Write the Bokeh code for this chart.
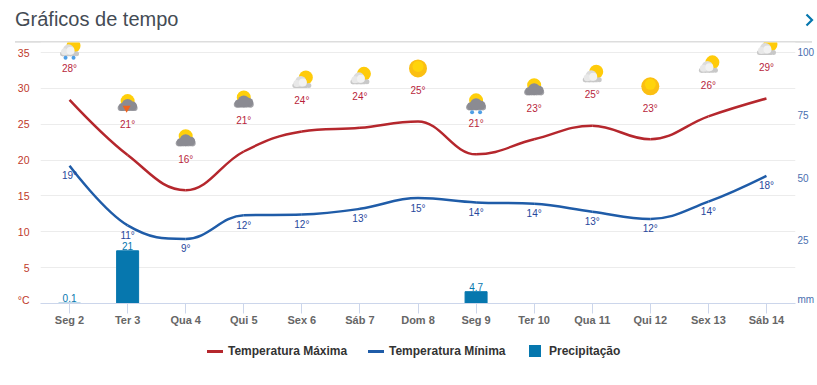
from bokeh.embed import file_html
from bokeh.resources import INLINE
from bokeh.plotting import figure
from bokeh.layouts import column
from bokeh.models import (ColumnDataSource, Range1d, LinearAxis, FixedTicker, Div)
from bokeh.core.properties import value

days = ["Seg 2", "Ter 3", "Qua 4", "Qui 5", "Sex 6", "Sáb 7", "Dom 8", "Seg 9", "Ter 10", "Qua 11", "Qui 12", "Sex 13", "Sáb 14"]
temp_max = [28.4, 20.7, 15.8, 21.2, 24.0, 24.5, 25.4, 20.8, 22.9, 24.8, 22.9, 26.1, 28.6]
temp_min = [19.2, 10.9, 9.0, 12.3, 12.4, 13.2, 14.7, 14.1, 13.9, 12.8, 11.8, 14.2, 17.8]
label_max = ["28°", "21°", "16°", "21°", "24°", "24°", "25°", "21°", "23°", "25°", "23°", "26°", "29°"]
label_min = ["19°", "11°", "9°", "12°", "12°", "13°", "15°", "14°", "14°", "13°", "12°", "14°", "18°"]
precip_days = [0, 1, 7]
precip = [0.1, 21, 4.7]
precip_labels = ["0.1", "21", "4.7"]
icons = ["rain", "storm", "dark", "dark", "light", "light", "sun", "rain_dark", "dark", "light", "sun", "light", "light"]
temp_ticks = [5, 10, 15, 20, 25, 30, 35]
mm_ticks = [25, 50, 75, 100]
legend_names = ["Temperatura Máxima", "Temperatura Mínima", "Precipitação"]

RED = "#b5272d"; BLUE = "#1f5ca8"; BAR = "#0677ae"
FONT = "Liberation Sans"
W, H = 817, 300
L, R, T, B = 40, W - 795, 0, H - 261
xr = Range1d(-0.5, 12.5)
yr = Range1d(0, (303 - 42) / 7.17)
ppx = (W - L - R) / 13
ppy = 7.17

header = Div(width=W, height=42, margin=0, text=(
    '<div style="position:relative;width:816px;height:42px;">'
    '<div style="position:absolute;left:15px;top:8px;font:20px \'Liberation Sans\';color:#444b54;white-space:nowrap;">Gráficos de tempo</div>'
    '<div style="position:absolute;left:15px;top:41px;width:797px;height:2px;background:#dddddd;"></div>'
    '<svg style="position:absolute;left:804px;top:12px;" width="11" height="16">'
    '<polyline points="2.5,2.5 8,8 2.5,13.5" fill="none" stroke="#0677ae" stroke-width="2.2"/></svg>'
    '</div>'))

label_css = "position:absolute;top:0;line-height:18px;font:bold 12px/18px 'Liberation Sans';color:#333333;white-space:nowrap;"
legend = Div(width=W, height=30, margin=0, text=(
    '<div style="position:relative;width:816px;height:30px;">'
    f'<div style="position:absolute;left:207px;top:8px;width:16px;height:2.5px;background:{RED};"></div>'
    f'<div style="{label_css}left:228px;">{legend_names[0]}</div>'
    f'<div style="position:absolute;left:368px;top:8px;width:16px;height:2.5px;background:{BLUE};"></div>'
    f'<div style="{label_css}left:389px;">{legend_names[1]}</div>'
    f'<div style="position:absolute;left:529px;top:3px;width:12px;height:12px;background:{BAR};"></div>'
    f'<div style="{label_css}left:549px;">{legend_names[2]}</div>'
    '</div>'))

p = figure(width=W, height=H, output_backend="svg", toolbar_location=None,
           x_range=xr, y_range=yr, margin=0,
           min_border_left=L, min_border_right=R, min_border_top=T, min_border_bottom=B,
           outline_line_color=None, background_fill_color="white", border_fill_color="white")
p.extra_y_ranges = {"mm": Range1d(0, (303 - 42) / 2.51)}

# axes
p.xaxis.ticker = FixedTicker(ticks=list(range(13)))
p.xaxis.major_label_overrides = {i: d for i, d in enumerate(days)}
p.xaxis.axis_line_color = "#ccd6eb"
p.xaxis.major_tick_line_color = "#ccd6eb"
p.xaxis.major_tick_in = 0
p.xaxis.major_tick_out = 10
p.xaxis.minor_tick_line_color = None
p.xaxis.major_label_text_font = FONT
p.xaxis.major_label_text_font_size = "11px"
p.xaxis.major_label_text_font_style = "bold"
p.xaxis.major_label_text_color = "#666666"
p.xaxis.major_label_standoff = 0
p.xgrid.visible = False
p.ygrid.ticker = FixedTicker(ticks=temp_ticks)
p.ygrid.grid_line_color = "#ececec"

UNIT_C = 4 / ppy        # the unit labels sit slightly above the baseline
UNIT_MM = 4 / 2.51
p.yaxis.ticker = FixedTicker(ticks=[UNIT_C] + temp_ticks)
p.yaxis.major_label_overrides = {UNIT_C: "°C"}
p.yaxis.axis_line_color = None
p.yaxis.major_tick_line_color = None
p.yaxis.minor_tick_line_color = None
p.yaxis.major_tick_in = 0
p.yaxis.major_tick_out = 0
p.yaxis.minor_tick_in = 0
p.yaxis.minor_tick_out = 0
p.yaxis.major_label_text_font = FONT
p.yaxis.major_label_text_font_size = "10.5px"
p.yaxis.major_label_text_color = "#c0392b"
p.yaxis.major_label_standoff = 11

ax = LinearAxis(y_range_name="mm", ticker=FixedTicker(ticks=[UNIT_MM] + mm_ticks),
                major_label_overrides={UNIT_MM: "mm"},
                axis_line_color=None, major_tick_line_color=None, minor_tick_line_color=None,
                major_tick_in=0, major_tick_out=0, minor_tick_in=0, minor_tick_out=0,
                major_label_text_font=FONT, major_label_text_font_size="10px",
                major_label_text_color="#4a6fb0", major_label_standoff=2)
p.add_layout(ax, "right")

# bars
bars = p.vbar(x=precip_days, top=precip, width=22 / ppx, y_range_name="mm", color=BAR)
p.text(x=precip_days, y=precip, text=precip_labels, y_range_name="mm", text_font=value(FONT),
       text_font_size="10px", text_color=BAR, text_align="center", text_baseline="middle", y_offset=-5)


def spline(vals):
    """Smooth path through the values, as cubic Bezier segments."""
    n = len(vals)
    rights = [None] * n
    lefts = [None] * n
    s = 1.5
    for i in range(1, n - 1):
        x, y = i, vals[i]
        lx = (s * x + (i - 1)) / (s + 1); ly = (s * y + vals[i - 1]) / (s + 1)
        rx = (s * x + (i + 1)) / (s + 1); ry = (s * y + vals[i + 1]) / (s + 1)
        corr = ((ry - ly) * (rx - x)) / (rx - lx) + y - ry
        ly += corr; ry += corr
        if ly > vals[i - 1] and ly > y:
            ly = max(vals[i - 1], y); ry = 2 * y - ly
        elif ly < vals[i - 1] and ly < y:
            ly = min(vals[i - 1], y); ry = 2 * y - ly
        if ry > vals[i + 1] and ry > y:
            ry = max(vals[i + 1], y); ly = 2 * y - ry
        elif ry < vals[i + 1] and ry < y:
            ry = min(vals[i + 1], y); ly = 2 * y - ry
        lefts[i] = (lx, ly); rights[i] = (rx, ry)
    d = dict(x0=[], y0=[], x1=[], y1=[], cx0=[], cy0=[], cx1=[], cy1=[])
    for i in range(n - 1):
        a = rights[i] or (i, vals[i])
        b = lefts[i + 1] or (i + 1, vals[i + 1])
        d["x0"].append(i); d["y0"].append(vals[i]); d["x1"].append(i + 1); d["y1"].append(vals[i + 1])
        d["cx0"].append(a[0]); d["cy0"].append(a[1]); d["cx1"].append(b[0]); d["cy1"].append(b[1])
    return ColumnDataSource(d)


lmax = p.bezier("x0", "y0", "x1", "y1", "cx0", "cy0", "cx1", "cy1", source=spline(temp_max), line_color=RED, line_width=2.5)
lmin = p.bezier("x0", "y0", "x1", "y1", "cx0", "cy0", "cx1", "cy1", source=spline(temp_min), line_color=BLUE, line_width=2.5)

xs = list(range(13))
p.text(x=xs, y=temp_max, text=label_max, text_font=value(FONT), text_font_size="10px", text_color="#b81f3c",
       text_align="center", text_baseline="middle", y_offset=-31)
p.text(x=xs, y=temp_min, text=label_min, text_font=value(FONT), text_font_size="10px", text_color="#27479c",
       text_align="center", text_baseline="middle", y_offset=10)


# weather icons, placed above each maximum
def blob(i, dx, dy, size, color, marker="circle"):
    p.scatter([i + dx / ppx], [temp_max[i] + (52 - dy) / ppy], size=size, color=color, line_color=None, marker=marker)


def dark_cloud(i):
    blob(i, 0, -2, 14, "#ffcf0a")
    for dx in (-7, 7):
        blob(i, dx, 5, 6, "#a3a3a8")
    for dx in (-5, 0, 5):
        blob(i, dx, 5, 6, "#a3a3a8", "square")
    blob(i, -5, 4, 8, "#8b8b92")
    blob(i, 5, 3, 9, "#8b8b92")
    blob(i, 0, 2, 12, "#8b8b92")


def light_cloud(i):
    blob(i, 4, -2, 14, "#ffcb0a")
    for dx in (-7, 7):
        blob(i, dx, 6, 5, "#c8c8c8")
    for dx in (-5, -1, 3):
        blob(i, dx, 6, 5, "#c8c8c8", "square")
    blob(i, -1, 2, 11, "#dcdcdc")
    blob(i, -5, 4, 7, "#e8e8e8")
    blob(i, 1, 3, 8, "#f2f2f2")


for i, kind in enumerate(icons):
    if kind == "sun":
        blob(i, 0, -1, 18, "#fbbf12")
        blob(i, 0, -3, 11, "#ffd40a")
    elif kind in ("light", "rain"):
        light_cloud(i)
    else:
        dark_cloud(i)
    if kind in ("rain", "rain_dark"):
        blob(i, -4, 10, 4, "#4f9fe6")
        blob(i, 4, 10, 4, "#4f9fe6")
    if kind == "storm":
        blob(i, -1, 5, 8, "#f0641e", "inverted_triangle")

page = column(header, p, legend, spacing=0, margin=0)
open("out.html", "w").write(file_html(page, INLINE))
